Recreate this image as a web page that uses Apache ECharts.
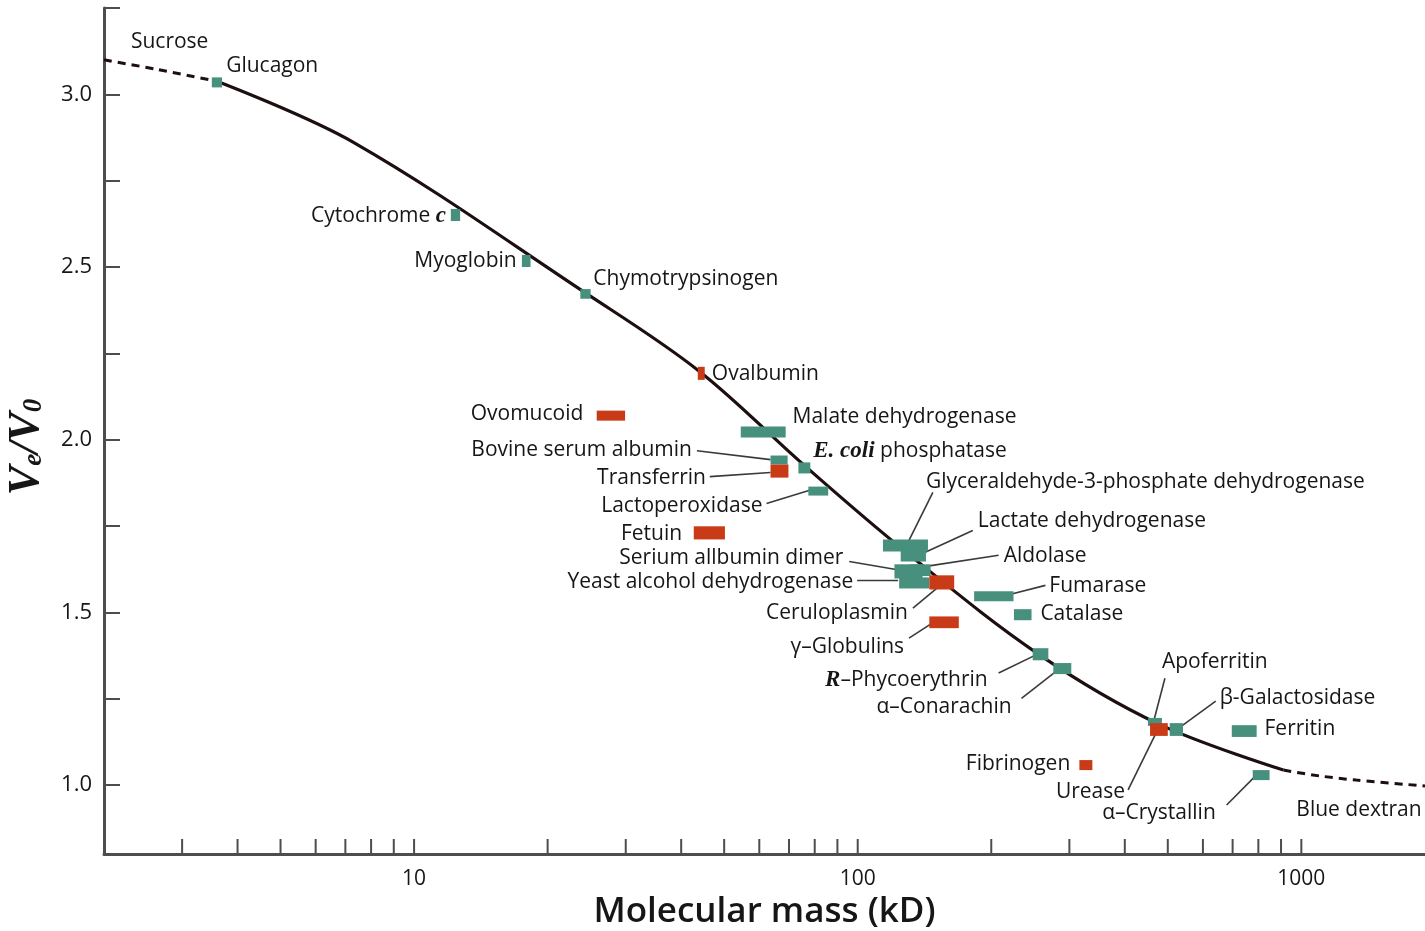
<!DOCTYPE html>
<html><head><meta charset="utf-8">
<script src="https://cdn.jsdelivr.net/npm/echarts@6/dist/echarts.min.js"></script>
<style>html,body{margin:0;padding:0;background:#fff}#c{width:1425px;height:931px}</style>
</head><body><div id="c"></div>
<script>
// ---------- data ----------
const xTickValues = [3,4,5,6,7,8,9,10,20,30,40,50,60,70,80,90,100,200,300,400,500,600,700,800,900,1000];
const xLabelValues = [10,100,1000];
const yTickValues = [1.0,1.25,1.5,1.75,2.0,2.25,2.5,2.75,3.0,3.25];
const yLabelValues = [1.0,1.5,2.0,2.5,3.0];

// calibration curve (solid part) and extrapolated dashed ends
const curveMass  = [3.594, 7.3, 24.33, 43.85, 75.84, 127.2, 255.5, 477.5, 911];
const curveRatio = [3.038, 2.861, 2.425, 2.199, 1.925, 1.679, 1.379, 1.176, 1.043];
const dashLeftMass  = [2, 2.64, 3.594];
const dashLeftRatio = [3.10, 3.072, 3.038];
const dashRightMass  = [911, 1100, 1329, 1900];
const dashRightRatio = [1.043, 1.026, 1.014, 0.997];

// proteins: mass range (kD) and Ve/V0 range
const proteins   = ['Glucagon','Cytochrome c','Myoglobin','Chymotrypsinogen','Ovalbumin','Ovomucoid','Malate dehydrogenase','Bovine serum albumin','Transferrin','E. coli phosphatase','Lactoperoxidase','Fetuin','Glyceraldehyde-3-phosphate dehydrogenase','Lactate dehydrogenase','Serum albumin dimer','Aldolase','Yeast alcohol dehydrogenase','Ceruloplasmin','γ-Globulins','Fumarase','Catalase','R-Phycoerythrin','α-Conarachin','Apoferritin','Urease','β-Galactosidase','Ferritin','Fibrinogen','α-Crystallin'];
const massLow    = [3.50, 12.1, 17.5, 23.7, 43.6, 25.8, 54.5, 63.6, 63.6, 73.5, 77.4, 42.7, 114, 125, 121, 131, 124, 145, 145, 183, 225, 248, 276, 451, 456, 505, 697, 316, 777];
const massHigh   = [3.69, 12.7, 18.3, 25.0, 45.2, 29.9, 68.8, 69.5, 69.8, 78.2, 85.8, 50.2, 144, 142.5, 140, 146, 145, 165, 169, 224.5, 246.5, 269, 303, 485, 500, 541, 793, 338, 848];
const ratioLow   = [3.020, 2.633, 2.500, 2.408, 2.173, 2.055, 2.006, 1.928, 1.890, 1.902, 1.838, 1.711, 1.676, 1.647, 1.598, 1.605, 1.569, 1.566, 1.454, 1.532, 1.477, 1.361, 1.321, 1.171, 1.142, 1.142, 1.139, 1.043, 1.014];
const ratioHigh  = [3.049, 2.668, 2.535, 2.436, 2.211, 2.084, 2.038, 1.954, 1.928, 1.934, 1.864, 1.749, 1.711, 1.679, 1.639, 1.639, 1.601, 1.607, 1.488, 1.561, 1.509, 1.396, 1.353, 1.194, 1.179, 1.179, 1.173, 1.072, 1.043];
const glyco      = [0,0,0,0,1,1,0,0,1,0,0,1,0,0,0,0,0,1,1,0,0,0,0,0,1,0,0,1,0];

// annotation texts, their anchor (mass, ratio) and leader lines [mass1, ratio1, mass2, ratio2]
const labelText  = ['Sucrose','Glucagon','Cytochrome {i|c}','Myoglobin','Chymotrypsinogen','Ovalbumin','Ovomucoid','Malate dehydrogenase','{i|E. coli} phosphatase','Bovine serum albumin','Transferrin','Lactoperoxidase','Fetuin','Glyceraldehyde-3-phosphate dehydrogenase','Lactate dehydrogenase','Aldolase','Serium allbumin dimer','Yeast alcohol dehydrogenase','Fumarase','Catalase','Ceruloplasmin','γ–Globulins','{i|R}–Phycoerythrin','α–Conarachin','Apoferritin','β-Galactosidase','Ferritin','Fibrinogen','Urease','α–Crystallin','Blue dextran'];
const labelMass  = [2.30, 3.77, 11.8, 17.03, 25.35, 46.9, 24.07, 71.3, 79.4, 42.3, 45.5, 61.0, 40.2, 142.5, 186.5, 213.3, 92.8, 97.7, 270.4, 258.1, 129.8, 127.2, 196.3, 222.3, 484.9, 654.6, 826, 301.4, 400.6, 355.7, 974.5];
const labelRatio = [3.153, 3.084, 2.650, 2.520, 2.468, 2.194, 2.078, 2.069, 1.971, 1.974, 1.893, 1.812, 1.731, 1.879, 1.766, 1.665, 1.659, 1.592, 1.578, 1.497, 1.500, 1.402, 1.306, 1.228, 1.358, 1.254, 1.165, 1.064, 0.983, 0.922, 0.931];
const labelSide  = ['l','l','r','r','l','l','r','l','l','r','r','r','r','l','l','l','r','r','l','l','r','r','r','r','l','l','l','r','r','l','l'];
const leaders = [null,null,null,null,null,null,null,null,null,
  [43.4,1.968,63.6,1.942],
  [46.4,1.893,63.6,1.905],
  [62.3,1.815,78.6,1.855],
  null,
  [147.7,1.847,130.5,1.708],
  [181.7,1.737,138.8,1.668],
  [207.8,1.665,142.5,1.633],
  [95.7,1.647,122.0,1.624],
  [99.7,1.592,123.3,1.592],
  [264.9,1.578,221.1,1.552],
  null,
  [133.2,1.512,151.6,1.572],
  [130.5,1.425,146.9,1.468],
  [207.8,1.324,251.6,1.376],
  [234.0,1.251,281.8,1.332],
  [492.6,1.309,465.5,1.188],
  [641.3,1.243,537.8,1.171],
  null,
  null,
  [406.9,0.986,472.7,1.156],
  [678.6,0.942,792.5,1.029],
  null];

// ---------- chart ----------
const X_MIN = 2, X_MAX = 1900, Y_MIN = 0.8, Y_MAX = 3.25;
const TEAL = '#47907e', RED = '#c93a16', INK = '#161616', AXIS = '#4d4d4d', CURVE = '#1d0f10';
const FONT = '"Open Sans", sans-serif';
const SERIF = '"Liberation Serif", serif';
const RICH = { i: { fontFamily: SERIF, fontStyle: 'italic', fontWeight: 'bold', fontSize: 23, fill: INK, color: INK } };

const chart = echarts.init(document.getElementById('c'), null, { renderer: 'canvas' });
const zip = (a, b) => a.map((v, i) => [v, b[i]]);

chart.setOption({
  animation: false,
  backgroundColor: '#fff',
  grid: { left: 104, right: 0, top: 8, bottom: 77, containLabel: false, outerBoundsMode: 'none' },
  xAxis: {
    type: 'log', logBase: 10, min: X_MIN, max: X_MAX,
    name: 'Molecular mass (kD)', nameLocation: 'middle', nameGap: 40,
    nameTextStyle: { fontFamily: FONT, fontWeight: 600, fontSize: 35, color: INK },
    axisLine: { show: true, lineStyle: { color: AXIS, width: 3 } },
    axisTick: { show: false },
    splitLine: { show: false }, minorTick: { show: false }, minorSplitLine: { show: false },
    axisLabel: { show: true, margin: 15, fontFamily: FONT, fontSize: 21, color: INK,
      customValues: xLabelValues,
      formatter: v => (xLabelValues.indexOf(Math.round(v)) >= 0 ? String(Math.round(v)) : '') }
  },
  yAxis: {
    type: 'value', min: Y_MIN, max: Y_MAX,
    name: '{v|V}{s|e}{v|/V}{s|0}', nameLocation: 'middle', nameGap: 56, nameRotate: 90,
    nameTextStyle: { padding: [0, 32, 0, 0], rich: {
      v: { fontFamily: SERIF, fontStyle: 'italic', fontWeight: 'bold', fontSize: 44, lineHeight: 42, color: INK },
      s: { fontFamily: SERIF, fontStyle: 'italic', fontWeight: 'bold', fontSize: 27, lineHeight: 22, verticalAlign: 'bottom', color: INK }
    } },
    axisLine: { show: true, lineStyle: { color: AXIS, width: 3 } },
    axisTick: { show: true, inside: true, length: 16, customValues: yTickValues, lineStyle: { color: AXIS, width: 2 } },
    splitLine: { show: false },
    axisLabel: { show: true, margin: 12, fontFamily: FONT, fontSize: 22, color: INK,
      customValues: yLabelValues, formatter: v => Number(v).toFixed(1) }
  },
  series: [
    { type: 'custom', name: 'xticks', silent: true, clip: false, z: 3,
      data: xTickValues.map(v => [v, Y_MIN]),
      renderItem: (p, api) => {
        const pt = api.coord([api.value(0), api.value(1)]);
        return { type: 'line', shape: { x1: pt[0], y1: pt[1], x2: pt[0], y2: pt[1] - 15 },
          style: { stroke: AXIS, lineWidth: 2 } };
      } },
    { type: 'line', name: 'curve', data: zip(curveMass, curveRatio), smooth: 0.35, showSymbol: false, silent: true, z: 4,
      lineStyle: { color: CURVE, width: 3.2 } },
    { type: 'line', name: 'dashL', data: zip(dashLeftMass, dashLeftRatio), smooth: 0.3, showSymbol: false, silent: true, z: 4,
      lineStyle: { color: CURVE, width: 3, type: [8, 6] } },
    { type: 'line', name: 'dashR', data: zip(dashRightMass, dashRightRatio), smooth: 0.3, showSymbol: false, silent: true, z: 4,
      lineStyle: { color: CURVE, width: 3, type: [8, 6] } },
    { type: 'custom', name: 'leaders', silent: true, clip: false, z: 5,
      data: labelMass.map((m, i) => [m, labelRatio[i]]),
      renderItem: (p, api) => {
        const ld = leaders[p.dataIndex];
        if (!ld) return null;
        const a = api.coord([ld[0], ld[1]]), b = api.coord([ld[2], ld[3]]);
        return { type: 'line', shape: { x1: a[0], y1: a[1], x2: b[0], y2: b[1] },
          style: { stroke: '#3a3a3a', lineWidth: 1.6 } };
      } },
    { type: 'custom', name: 'proteins', silent: true, clip: false, z: 6,
      data: proteins.map((n, i) => ({ name: n, value: [massLow[i], massHigh[i], ratioLow[i], ratioHigh[i]],
        itemStyle: { color: glyco[i] ? RED : TEAL } })),
      encode: { x: [0, 1], y: [2, 3] },
      renderItem: (p, api) => {
        const a = api.coord([api.value(0), api.value(3)]);
        const b = api.coord([api.value(1), api.value(2)]);
        return { type: 'rect', shape: { x: a[0], y: a[1], width: b[0] - a[0], height: b[1] - a[1] },
          style: { fill: api.visual('color') } };
      } },
    { type: 'custom', name: 'labels', silent: true, clip: false, z: 7,
      data: labelMass.map((m, i) => [m, labelRatio[i]]),
      renderItem: (p, api) => {
        const i = p.dataIndex;
        const pt = api.coord([api.value(0), api.value(1)]);
        return { type: 'text', x: pt[0], y: pt[1] + 1,
          style: { text: labelText[i], fill: INK, fontFamily: FONT, fontSize: 21,
            align: labelSide[i] === 'l' ? 'left' : 'right', verticalAlign: 'middle', rich: RICH } };
      } }
  ]
});
</script></body></html>
